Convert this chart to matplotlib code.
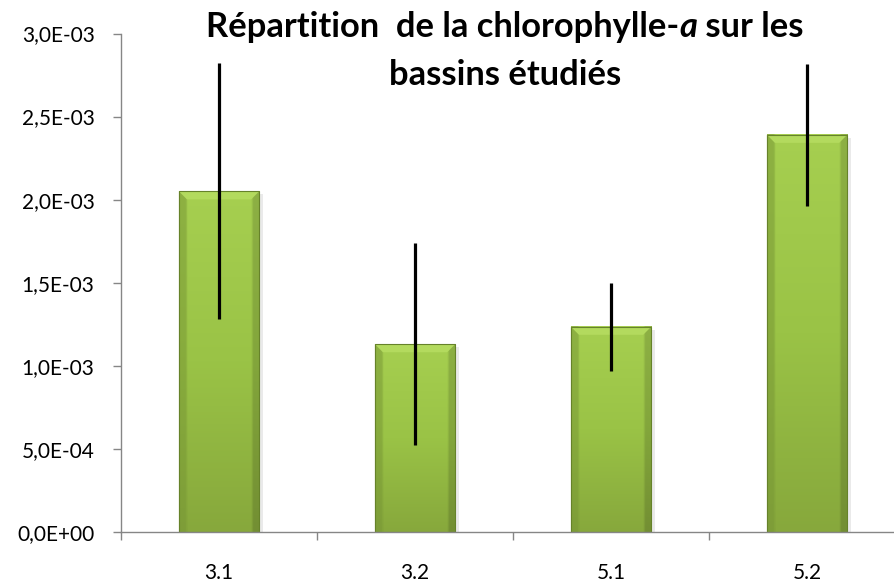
import numpy as np
import matplotlib
matplotlib.use("Agg")
import matplotlib.pyplot as plt
from matplotlib.patches import Polygon, Rectangle
from matplotlib.colors import LinearSegmentedColormap
from matplotlib.ticker import FuncFormatter, MultipleLocator, FixedLocator

plt.rcParams['font.family'] = ['Lato', 'DejaVu Sans']

# chlorophylle-a par bassin (moyenne et écart-type)
bassins = ['3.1', '3.2', '5.1', '5.2']
chl_a = [2.05e-3, 1.13e-3, 1.235e-3, 2.39e-3]
ecart = [0.77e-3, 0.607e-3, 0.265e-3, 0.428e-3]

fig = plt.figure(figsize=(8.94, 5.84), dpi=100)
ax = fig.add_axes([121 / 894, 52 / 584, 1 - 121 / 894, (532 - 33.5) / 584])

x = np.arange(len(bassins))
w = 0.41
ymax = 3.0e-3
px_y = ymax / 498.5   # data units per pixel, vertical
px_x = 1 / 196        # data units per pixel, horizontal

# vertical green gradient for the bars
grad = LinearSegmentedColormap.from_list('vert', ['#87a83c', '#9ac346', '#a6cf50'])
shade = np.linspace(0, 1, 256).reshape(-1, 1)
side = np.ones((1, 32))
side[0, :3] = 0.85
side[0, -3:] = 0.85

bars = ax.bar(x, chl_a, width=w, color='none', edgecolor='none', zorder=2)
for b, h in zip(bars, chl_a):
    x0, x1 = b.get_x(), b.get_x() + b.get_width()
    # soft shadow on the right
    ax.add_patch(Rectangle((x1, 0), 4 * px_x, h - 3 * px_y, color='#dcdcdc',
                           alpha=0.6, lw=0, zorder=1.5))
    rgb = grad(shade)[:, :, :3] * side[..., None]
    ax.imshow(rgb, extent=[x0, x1, 0, h], origin='lower', aspect='auto',
              zorder=2, interpolation='bilinear')
    # bevel on the top edge
    bev_h = 8 * px_y
    bev_w = 8 * px_x
    ax.add_patch(Polygon([[x0, h], [x1, h], [x1 - bev_w, h - bev_h], [x0 + bev_w, h - bev_h]],
                         closed=True, color='#b3da5e', lw=0, zorder=2.1))
    ax.add_patch(Polygon([[x0, h], [x0 + bev_w, h - bev_h], [x0 + bev_w, 0], [x0, 0]],
                         closed=True, color='#8fb440', lw=0, alpha=0.4, zorder=2.1))
    ax.add_patch(Rectangle((x0, 0), x1 - x0, h, fill=False, ec='#66822a', lw=0.8, zorder=2.2))

ax.errorbar(x, chl_a, yerr=ecart, fmt='none', ecolor='black', elinewidth=2.3,
            capsize=0, zorder=3)

ax.set_xlim(-0.5, 3.5 - 11 / 196)
ax.set_ylim(0, ymax)

ax.yaxis.set_major_locator(MultipleLocator(5e-4))
ax.yaxis.set_major_formatter(FuncFormatter(lambda v, p: f"{v:.1E}".replace('.', ',')))
ax.xaxis.set_major_locator(FixedLocator(x))
ax.set_xticklabels(bassins)
ax.xaxis.set_minor_locator(FixedLocator(np.arange(-0.5, 3.5, 1.0)))

for s in ['top', 'right']:
    ax.spines[s].set_visible(False)
for s in ['left', 'bottom']:
    ax.spines[s].set_color('#868686')
    ax.spines[s].set_linewidth(1.0)

ax.tick_params(axis='y', which='major', direction='out', length=6, width=1,
               color='#868686', labelsize=15, pad=13)
ax.tick_params(axis='x', which='major', length=0, labelsize=15, pad=22)
ax.tick_params(axis='x', which='minor', direction='out', length=6, width=1,
               color='#868686')

# title drawn in pieces so that the "a" can be italic, then centred
fig.canvas.draw()
renderer = fig.canvas.get_renderer()
tsize = 24.8
cx = 505
parts = [("Répartition  de la chlorophylle-", 'normal'), ("a", 'italic'), (" sur les", 'normal')]
pieces = []
for s, style in parts:
    t = fig.text(0, 1 - 37 / 584, s, fontsize=tsize, fontweight='bold',
                 style=style, ha='left', va='baseline')
    pieces.append((t, t.get_window_extent(renderer).width))
xpos = cx - sum(wd for _, wd in pieces) / 2
for t, wd in pieces:
    t.set_x(xpos / 894)
    xpos += wd
fig.text(cx / 894, 1 - 85 / 584, "bassins étudiés", fontsize=tsize, fontweight='bold',
         ha='center', va='baseline')

fig.savefig('out.png', dpi=100)
